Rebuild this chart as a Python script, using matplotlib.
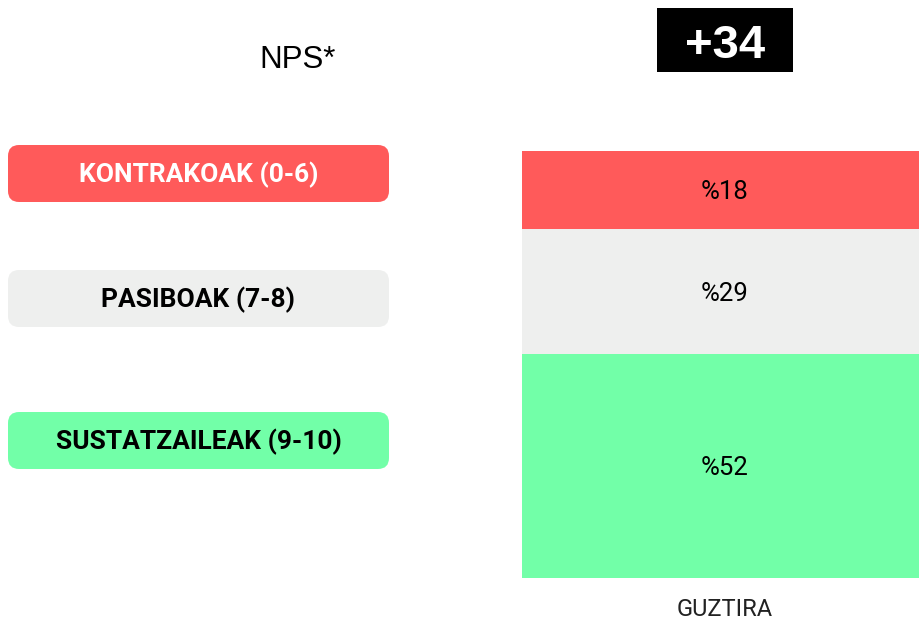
from matplotlib import pyplot as plt
from matplotlib.patches import FancyBboxPatch, Rectangle

categories = ["KONTRAKOAK (0-6)", "PASIBOAK (7-8)", "SUSTATZAILEAK (9-10)"]
values = [18, 29, 52]
value_labels = ["%18", "%29", "%52"]
colors = ["#FF5A5A", "#EEEFEE", "#72FFA8"]
text_colors = ["white", "black", "black"]
column_label = "GUZTIRA"
nps_label = "+34"

W, H = 920, 620
fig = plt.figure(figsize=(W / 100, H / 100), dpi=100)
fig.patch.set_facecolor("white")

# stacked bar, top segment first
ax = fig.add_axes([522 / W, (H - 578) / H, 398 / W, 427 / H])
total = sum(values)
bottom = total
for val, lab, col in zip(values, value_labels, colors):
    bottom -= val
    ax.bar(0, val, bottom=bottom, width=1.0, color=col, edgecolor="none")
    ax.text(0.01, bottom + val / 2, lab, ha="center", va="center_baseline",
            fontsize=18.5, family="Roboto", color="black")
ax.set_xlim(-0.5, 0.5)
ax.set_ylim(0, total)
ax.axis("off")

fig.text(725 / W, 1 - 609 / H, column_label, ha="center", va="center",
         fontsize=17, family="Roboto", color="#222222")

# legend boxes on the left
box_tops = [145, 270, 412]
for top, cat, col, tcol in zip(box_tops, categories, colors, text_colors):
    x0, x1, h = 8, 389, 57
    patch = FancyBboxPatch((x0 / W, 1 - (top + h) / H), (x1 - x0) / W, h / H,
                           boxstyle="round,pad=0,rounding_size=0.012",
                           transform=fig.transFigure, facecolor=col,
                           edgecolor="none", mutation_aspect=W / H)
    fig.patches.append(patch)
    fig.text((x0 + x1) / 2 / W, 1 - (top + h / 2 - 2) / H, cat, ha="center",
             va="center_baseline", fontsize=19, weight="bold", family="Roboto",
             color=tcol)

fig.text(298 / W, 1 - 60 / H, "NPS*", ha="center", va="center",
         fontsize=22.5, family="Liberation Sans", color="black")

fig.patches.append(Rectangle((657 / W, 1 - 72 / H), 136 / W, 64 / H,
                             transform=fig.transFigure, facecolor="black",
                             edgecolor="none"))
fig.text(725 / W, 1 - 41 / H, nps_label, ha="center", va="center_baseline",
         fontsize=34, weight="bold", family="Liberation Sans", color="white")

fig.savefig("out.png", dpi=100, facecolor=fig.get_facecolor())
